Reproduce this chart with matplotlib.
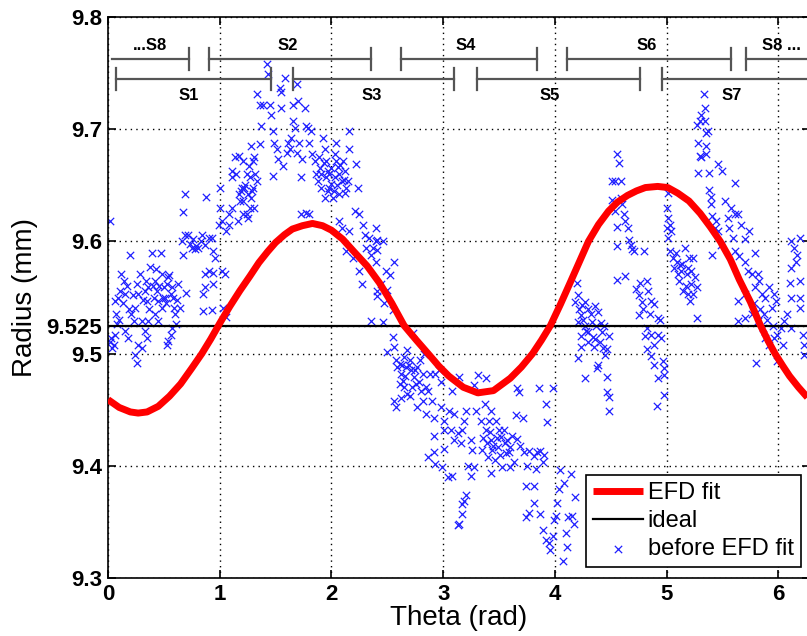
import numpy as np
import matplotlib
matplotlib.use("Agg")
import matplotlib.pyplot as plt

plt.rcParams["font.family"] = ["Liberation Sans", "DejaVu Sans"]

# EFD fit (red curve)
FIT_THETA = [0.0, 0.1, 0.2, 0.27, 0.35, 0.45, 0.55, 0.65, 0.75, 0.84, 0.92, 1.0,
             1.09, 1.18, 1.27, 1.35, 1.43, 1.5, 1.58, 1.65, 1.74, 1.83, 1.92, 2.0,
             2.1, 2.2, 2.32, 2.43, 2.54, 2.65, 2.76, 2.865, 2.96, 3.05, 3.18, 3.31,
             3.45, 3.6, 3.7, 3.8, 3.88, 3.96, 4.05, 4.14, 4.22, 4.30, 4.39, 4.48,
             4.56, 4.65, 4.73, 4.81, 4.92, 5.01, 5.1, 5.2, 5.3, 5.39, 5.48, 5.57,
             5.65, 5.75, 5.84, 5.91, 5.97, 6.04, 6.1, 6.18, 6.26]
FIT_R = [9.459, 9.452, 9.448, 9.447, 9.448, 9.453, 9.462, 9.473, 9.487, 9.500,
         9.513, 9.527, 9.542, 9.556, 9.569, 9.581, 9.591, 9.599, 9.606, 9.611,
         9.614, 9.616, 9.614, 9.610, 9.602, 9.591, 9.578, 9.563, 9.545, 9.525,
         9.512, 9.500, 9.489, 9.480, 9.470, 9.465, 9.467, 9.478, 9.488, 9.500,
         9.512, 9.525, 9.544, 9.564, 9.582, 9.600, 9.615, 9.627, 9.635, 9.641,
         9.645, 9.648, 9.649, 9.648, 9.643, 9.636, 9.625, 9.613, 9.600, 9.584,
         9.566, 9.546, 9.525, 9.511, 9.500, 9.489, 9.480, 9.470, 9.461]
IDEAL_R = 9.525

# measured radius before the fit, (theta, radius) per stretch of the part
PTS_0 = [(0.02, 9.618), (0.03, 9.514), (0.05, 9.508), (0.06, 9.517), (0.08, 9.526),
         (0.04, 9.505), (0.06, 9.547), (0.11, 9.556), (0.12, 9.571), (0.14, 9.565),
         (0.09, 9.550), (0.15, 9.553), (0.20, 9.588), (0.18, 9.514), (0.24, 9.499),
         (0.26, 9.492), (0.27, 9.508), (0.30, 9.505), (0.21, 9.535), (0.23, 9.529),
         (0.24, 9.541), (0.27, 9.553), (0.29, 9.571), (0.33, 9.556), (0.35, 9.547),
         (0.36, 9.559), (0.38, 9.577), (0.39, 9.590), (0.41, 9.550), (0.42, 9.565),
         (0.44, 9.556), (0.45, 9.547), (0.47, 9.590), (0.48, 9.571), (0.50, 9.559),
         (0.51, 9.550), (0.53, 9.562), (0.54, 9.568), (0.56, 9.553), (0.57, 9.559),
         (0.59, 9.541), (0.60, 9.535), (0.61, 9.526), (0.57, 9.523), (0.56, 9.517),
         (0.54, 9.511), (0.53, 9.508), (0.63, 9.562), (0.64, 9.541), (0.30, 9.529),
         (0.33, 9.520), (0.35, 9.514), (0.36, 9.529), (0.45, 9.529), (0.42, 9.535),
         (0.48, 9.541), (0.13, 9.545), (0.17, 9.560), (0.19, 9.540), (0.22, 9.552),
         (0.26, 9.562), (0.31, 9.548), (0.34, 9.565), (0.37, 9.540), (0.40, 9.560),
         (0.43, 9.575), (0.46, 9.560), (0.49, 9.550), (0.52, 9.545), (0.55, 9.570),
         (0.58, 9.550), (0.62, 9.548), (0.10, 9.530), (0.15, 9.520), (0.07, 9.535),
         (0.02, 9.510)]
PTS_1 = [(0.66, 9.600), (0.67, 9.588), (0.69, 9.606), (0.72, 9.606), (0.75, 9.594),
         (0.78, 9.593), (0.81, 9.594), (0.84, 9.606), (0.87, 9.597), (0.90, 9.603),
         (0.93, 9.603), (0.96, 9.585), (0.94, 9.591), (0.67, 9.626), (0.69, 9.642),
         (0.88, 9.640), (0.87, 9.571), (0.90, 9.574), (0.85, 9.553), (0.87, 9.559),
         (0.94, 9.572), (0.94, 9.562), (1.02, 9.574), (1.05, 9.571), (0.85, 9.538),
         (0.93, 9.539), (1.03, 9.541), (1.06, 9.533), (0.70, 9.554), (0.99, 9.615),
         (1.00, 9.630), (1.00, 9.648), (1.02, 9.618), (1.08, 9.615), (1.06, 9.609),
         (1.11, 9.663), (1.14, 9.675), (1.17, 9.676), (1.15, 9.660), (1.17, 9.642),
         (1.20, 9.648), (1.18, 9.636), (1.21, 9.624), (1.11, 9.657), (1.11, 9.630),
         (1.08, 9.624), (1.16, 9.618), (0.73, 9.598), (0.76, 9.602), (0.79, 9.596),
         (0.83, 9.600)]
PTS_2 = [(1.21, 9.672), (1.24, 9.660), (1.22, 9.648), (1.27, 9.657), (1.30, 9.672),
         (1.31, 9.675), (1.25, 9.642), (1.28, 9.639), (1.21, 9.636), (1.30, 9.648),
         (1.33, 9.654), (1.24, 9.624), (1.25, 9.621), (1.31, 9.630), (1.27, 9.630),
         (1.19, 9.645), (1.36, 9.687), (1.37, 9.703), (1.33, 9.731), (1.36, 9.722),
         (1.39, 9.722), (1.42, 9.758), (1.43, 9.749), (1.45, 9.722), (1.46, 9.713),
         (1.48, 9.698), (1.48, 9.658), (1.49, 9.688), (1.51, 9.682), (1.52, 9.673),
         (1.54, 9.737), (1.55, 9.733), (1.55, 9.719), (1.57, 9.667), (1.58, 9.746),
         (1.60, 9.679), (1.61, 9.688), (1.63, 9.682), (1.64, 9.692), (1.66, 9.722),
         (1.66, 9.707), (1.67, 9.701), (1.69, 9.740), (1.69, 9.679), (1.70, 9.725),
         (1.71, 9.688), (1.73, 9.657), (1.74, 9.673), (1.76, 9.719), (1.77, 9.703),
         (1.79, 9.701), (1.80, 9.688), (1.82, 9.698), (1.83, 9.678), (1.85, 9.672),
         (1.86, 9.660), (1.73, 9.624), (1.77, 9.625), (1.80, 9.624), (1.23, 9.650),
         (1.26, 9.667), (1.29, 9.645), (1.32, 9.660), (1.28, 9.685)]
PTS_3 = [(1.89, 9.675), (1.92, 9.692), (1.94, 9.682), (1.95, 9.672), (1.88, 9.654),
         (1.91, 9.648), (1.94, 9.639), (1.97, 9.645), (2.00, 9.651), (2.03, 9.657),
         (2.04, 9.672), (2.06, 9.666), (2.07, 9.660), (2.09, 9.654), (2.10, 9.672),
         (2.12, 9.663), (2.13, 9.648), (2.16, 9.698), (2.16, 9.682), (2.22, 9.669),
         (2.24, 9.648), (2.04, 9.688), (2.01, 9.639), (1.91, 9.660), (1.98, 9.660),
         (2.07, 9.642), (2.12, 9.643), (2.15, 9.654), (1.97, 9.663), (2.07, 9.618),
         (2.09, 9.612), (2.16, 9.609), (2.21, 9.627), (2.25, 9.624), (2.28, 9.615),
         (2.30, 9.606), (2.31, 9.594), (2.34, 9.603), (2.35, 9.588), (2.37, 9.594),
         (2.40, 9.600), (2.13, 9.591), (2.19, 9.585), (2.25, 9.574), (2.27, 9.562),
         (2.40, 9.582), (2.41, 9.556), (2.35, 9.529), (1.90, 9.665), (1.95, 9.657),
         (2.00, 9.665), (2.02, 9.645), (2.05, 9.650), (2.08, 9.668), (2.11, 9.655),
         (1.93, 9.670), (1.98, 9.648), (2.03, 9.678)]
PTS_4 = [(2.40, 9.612), (2.41, 9.601), (2.46, 9.600), (2.41, 9.592), (2.56, 9.582),
         (2.49, 9.574), (2.52, 9.570), (2.44, 9.562), (2.50, 9.557), (2.41, 9.551),
         (2.47, 9.545), (2.55, 9.539), (2.46, 9.528), (2.50, 9.501), (2.55, 9.515),
         (2.56, 9.506), (2.58, 9.494), (2.59, 9.488), (2.61, 9.491), (2.62, 9.482),
         (2.64, 9.476), (2.65, 9.497), (2.67, 9.488), (2.68, 9.503), (2.70, 9.494),
         (2.71, 9.485), (2.73, 9.518), (2.74, 9.479), (2.76, 9.473), (2.77, 9.488),
         (2.79, 9.494), (2.80, 9.467), (2.82, 9.482), (2.83, 9.500), (2.85, 9.470),
         (2.86, 9.467), (2.88, 9.482), (2.61, 9.473), (2.65, 9.470), (2.68, 9.464),
         (2.56, 9.458), (2.58, 9.452), (2.77, 9.452), (2.82, 9.458), (2.85, 9.446),
         (2.90, 9.458), (2.92, 9.443), (2.93, 9.482), (2.96, 9.485), (2.98, 9.475),
         (2.98, 9.452), (3.01, 9.440), (3.05, 9.449), (3.08, 9.467), (3.10, 9.446),
         (2.63, 9.490), (2.66, 9.480), (2.69, 9.490), (2.72, 9.470), (2.75, 9.485),
         (2.78, 9.475), (2.62, 9.460), (2.70, 9.462)]
PTS_5 = [(3.14, 9.479), (3.13, 9.429), (3.16, 9.420), (3.07, 9.432), (3.01, 9.432),
         (3.01, 9.415), (2.92, 9.427), (2.92, 9.412), (2.86, 9.408), (2.93, 9.402),
         (2.99, 9.399), (3.04, 9.390), (3.08, 9.391), (3.10, 9.423), (3.17, 9.432),
         (3.19, 9.440), (3.20, 9.449), (3.25, 9.423), (3.26, 9.414), (3.22, 9.400),
         (3.25, 9.391), (3.28, 9.399), (3.29, 9.449), (3.34, 9.440), (3.35, 9.414),
         (3.38, 9.432), (3.41, 9.440), (3.43, 9.423), (3.44, 9.414), (3.40, 9.408),
         (3.46, 9.405), (3.49, 9.417), (3.50, 9.432), (3.52, 9.426), (3.54, 9.432),
         (3.57, 9.423), (3.60, 9.417), (3.56, 9.411), (3.53, 9.399), (3.43, 9.394),
         (3.37, 9.455), (3.43, 9.449), (3.19, 9.369), (3.17, 9.366), (3.17, 9.357),
         (3.14, 9.348), (3.13, 9.347), (3.20, 9.374), (3.31, 9.481), (3.38, 9.478),
         (3.28, 9.472), (3.36, 9.425), (3.39, 9.420), (3.42, 9.430), (3.45, 9.418),
         (3.48, 9.425), (3.51, 9.410), (3.47, 9.440), (3.55, 9.420)]
PTS_6 = [(3.66, 9.469), (3.68, 9.466), (3.65, 9.445), (3.71, 9.443), (3.62, 9.427),
         (3.66, 9.424), (3.69, 9.418), (3.59, 9.412), (3.63, 9.403), (3.60, 9.399),
         (3.72, 9.412), (3.77, 9.413), (3.81, 9.409), (3.84, 9.412), (3.87, 9.413),
         (3.90, 9.410), (3.86, 9.469), (3.92, 9.455), (3.93, 9.439), (3.98, 9.469),
         (3.75, 9.400), (3.83, 9.397), (3.89, 9.403), (3.74, 9.382), (3.81, 9.382),
         (3.77, 9.358), (3.74, 9.354), (3.81, 9.367), (3.87, 9.357), (3.89, 9.343),
         (3.92, 9.334), (3.95, 9.331), (3.96, 9.325), (3.99, 9.352), (4.01, 9.355),
         (4.02, 9.367), (4.04, 9.379), (4.05, 9.396), (4.08, 9.385), (4.10, 9.340),
         (4.11, 9.328), (4.12, 9.354), (4.14, 9.393), (4.15, 9.355), (4.17, 9.348),
         (4.18, 9.372), (4.07, 9.315), (3.98, 9.337)]
PTS_7 = [(4.20, 9.563), (4.21, 9.552), (4.18, 9.546), (4.24, 9.543), (4.27, 9.546),
         (4.23, 9.534), (4.30, 9.540), (4.36, 9.542), (4.39, 9.537), (4.21, 9.528),
         (4.27, 9.525), (4.33, 9.528), (4.41, 9.527), (4.44, 9.525), (4.23, 9.516),
         (4.30, 9.519), (4.36, 9.513), (4.42, 9.519), (4.48, 9.516), (4.47, 9.504),
         (4.45, 9.499), (4.39, 9.490), (4.38, 9.487), (4.47, 9.479), (4.23, 9.506),
         (4.21, 9.496), (4.27, 9.478), (4.47, 9.466), (4.48, 9.461), (4.48, 9.449),
         (4.30, 9.510), (4.35, 9.506), (4.22, 9.540), (4.25, 9.530), (4.28, 9.520),
         (4.32, 9.535), (4.34, 9.515), (4.37, 9.525), (4.40, 9.510), (4.43, 9.505)]
PTS_8 = [(4.56, 9.678), (4.57, 9.670), (4.51, 9.654), (4.54, 9.654), (4.59, 9.654),
         (4.51, 9.637), (4.54, 9.627), (4.56, 9.613), (4.59, 9.639), (4.60, 9.633),
         (4.62, 9.624), (4.63, 9.618), (4.65, 9.612), (4.66, 9.601), (4.68, 9.597),
         (4.69, 9.593), (4.71, 9.591), (4.56, 9.596), (4.63, 9.569), (4.56, 9.566),
         (4.73, 9.558), (4.75, 9.552), (4.76, 9.563), (4.78, 9.546), (4.79, 9.540),
         (4.75, 9.534), (4.81, 9.516), (4.82, 9.504)]
PTS_9 = [(4.80, 9.591), (4.82, 9.565), (4.83, 9.556), (4.86, 9.547), (4.89, 9.544),
         (4.85, 9.535), (4.92, 9.532), (4.82, 9.523), (4.86, 9.517), (4.92, 9.517),
         (4.95, 9.514), (4.89, 9.508), (4.86, 9.498), (4.89, 9.490), (4.97, 9.493),
         (4.98, 9.487), (4.92, 9.478), (4.98, 9.463), (4.91, 9.453), (4.98, 9.481),
         (4.94, 9.530), (5.01, 9.643), (5.00, 9.630), (5.01, 9.621), (5.03, 9.615),
         (5.04, 9.609), (5.00, 9.612), (5.01, 9.603), (5.03, 9.591), (5.06, 9.585),
         (5.09, 9.582), (5.07, 9.576), (5.12, 9.579), (5.13, 9.574), (5.16, 9.594),
         (5.18, 9.571), (5.19, 9.576), (5.22, 9.574), (5.24, 9.585), (5.25, 9.568),
         (5.22, 9.562), (5.19, 9.553), (5.21, 9.547), (5.24, 9.553), (5.27, 9.559),
         (5.27, 9.532), (5.15, 9.556), (5.10, 9.571), (5.08, 9.590), (5.11, 9.565),
         (5.14, 9.580), (5.17, 9.560), (5.20, 9.585)]
PTS_10 = [(5.33, 9.731), (5.34, 9.719), (5.31, 9.713), (5.30, 9.707), (5.27, 9.704),
          (5.34, 9.707), (5.35, 9.697), (5.37, 9.698), (5.28, 9.688), (5.35, 9.685),
          (5.30, 9.676), (5.31, 9.675), (5.35, 9.678), (5.28, 9.661), (5.38, 9.661),
          (5.46, 9.669), (5.50, 9.663), (5.61, 9.652), (5.38, 9.646), (5.40, 9.640),
          (5.40, 9.633), (5.41, 9.623), (5.44, 9.618), (5.43, 9.612), (5.46, 9.609),
          (5.49, 9.597), (5.41, 9.588), (5.52, 9.636), (5.58, 9.630), (5.55, 9.621),
          (5.61, 9.624), (5.64, 9.624), (5.67, 9.615), (5.70, 9.602), (5.74, 9.609),
          (5.56, 9.612), (5.59, 9.603)]
PTS_11 = [(5.61, 9.591), (5.65, 9.587), (5.70, 9.582), (5.79, 9.590), (5.73, 9.574),
          (5.76, 9.571), (5.82, 9.571), (5.83, 9.565), (5.79, 9.559), (5.85, 9.553),
          (5.88, 9.550), (5.92, 9.559), (5.96, 9.553), (5.98, 9.547), (5.94, 9.541),
          (5.64, 9.547), (5.70, 9.553), (5.64, 9.529), (5.70, 9.532), (5.76, 9.535),
          (5.82, 9.529), (5.86, 9.523), (5.88, 9.514), (5.92, 9.508), (5.96, 9.514),
          (5.99, 9.517), (6.02, 9.523), (6.05, 9.529), (6.08, 9.535), (6.04, 9.508),
          (5.80, 9.492), (5.99, 9.493), (6.11, 9.523), (6.11, 9.600), (6.14, 9.594),
          (6.16, 9.582), (6.19, 9.603), (6.11, 9.576), (6.10, 9.563), (6.19, 9.565),
          (6.11, 9.550), (6.19, 9.550), (6.19, 9.541), (6.22, 9.517), (6.23, 9.508),
          (6.23, 9.499), (6.17, 9.588), (5.78, 9.545), (5.84, 9.540), (5.90, 9.530),
          (5.95, 9.525), (5.87, 9.535)]

# segment brackets S1..S8 drawn at the top of the plot
UPPER_SEGS = [(0.036, 0.725), (0.904, 2.355), (2.623, 3.84), (4.11, 5.58), (5.71, 6.30)]
UPPER_TICKS = [0.725, 0.904, 2.355, 2.623, 3.84, 4.11, 5.58, 5.71]
UPPER_NAMES = ["...S8", "S2", "S4", "S6", "S8 ..."]
UPPER_NAME_X = [0.38, 1.61, 3.20, 4.82, 6.03]
LOWER_SEGS = [(0.072, 1.46), (1.656, 3.10), (3.30, 4.76), (4.96, 6.30)]
LOWER_TICKS = [0.072, 1.46, 1.656, 3.10, 3.30, 4.76, 4.96]
LOWER_NAMES = ["S1", "S3", "S5", "S7"]
LOWER_NAME_X = [0.72, 2.36, 3.95, 5.58]

pts = np.array(PTS_0 + PTS_1 + PTS_2 + PTS_3 + PTS_4 + PTS_5 + PTS_6 + PTS_7
               + PTS_8 + PTS_9 + PTS_10 + PTS_11)

fig = plt.figure(figsize=(8.07, 6.36), dpi=100)
ax = fig.add_axes([108 / 807, 58 / 636, 702 / 807, 561 / 636])

sc = ax.scatter(pts[:, 0], pts[:, 1], marker="x", s=28, linewidths=0.9,
                color="#2020ff", zorder=2)
ideal = ax.axhline(IDEAL_R, color="k", lw=1.6, zorder=3)
fit, = ax.plot(FIT_THETA, FIT_R, color="#ff0000", lw=5, solid_joinstyle="round",
               solid_capstyle="butt", zorder=4)

# brackets
brk = dict(color="#555555", lw=1.6, zorder=5)
y_up, y_lo, h = 9.763, 9.745, 0.0098
for a, b in UPPER_SEGS:
    ax.plot([a, b], [y_up, y_up], **brk)
for t in UPPER_TICKS:
    ax.plot([t, t], [y_up - h, y_up + h], **brk)
for a, b in LOWER_SEGS:
    ax.plot([a, b], [y_lo, y_lo], **brk)
for t in LOWER_TICKS:
    ax.plot([t, t], [y_lo - h, y_lo + h], **brk)
for name, x in zip(UPPER_NAMES, UPPER_NAME_X):
    ax.text(x, 9.775, name, ha="center", va="center", fontsize=12, fontweight="bold")
for name, x in zip(LOWER_NAMES, LOWER_NAME_X):
    ax.text(x, 9.730, name, ha="center", va="center", fontsize=12, fontweight="bold")

ax.set_xlim(0, 2 * np.pi)
ax.set_ylim(9.3, 9.8)
ax.set_xticks(range(7))
ax.set_yticks([9.3, 9.4, 9.5, 9.525, 9.6, 9.7, 9.8])
ax.set_yticklabels(["9.3", "9.4", "9.5", "9.525", "9.6", "9.7", "9.8"])
ax.tick_params(direction="in", top=True, right=True, length=6, width=1.2,
               labelsize=16, pad=4)
for lbl in ax.get_xticklabels() + ax.get_yticklabels():
    lbl.set_fontweight("bold")
ax.grid(True, linestyle=(0, (1, 3)), color="k", lw=1.0, zorder=1)
for s in ax.spines.values():
    s.set_linewidth(1.2)

ax.set_xlabel("Theta (rad)", fontsize=20, labelpad=0)
ax.set_ylabel("Radius (mm)", fontsize=20, labelpad=6)

leg = ax.legend([fit, ideal, sc], ["EFD fit", "ideal", "before EFD fit"],
                loc="lower right", bbox_to_anchor=(0.987, 0.0196), borderaxespad=0,
                fontsize=17, fancybox=False, edgecolor="k", framealpha=1,
                handlelength=2.1, handletextpad=0.2, labelspacing=0.25,
                borderpad=0.3, scatterpoints=1)
leg.get_frame().set_linewidth(1.2)

fig.savefig("out.png", dpi=100, facecolor="white")
